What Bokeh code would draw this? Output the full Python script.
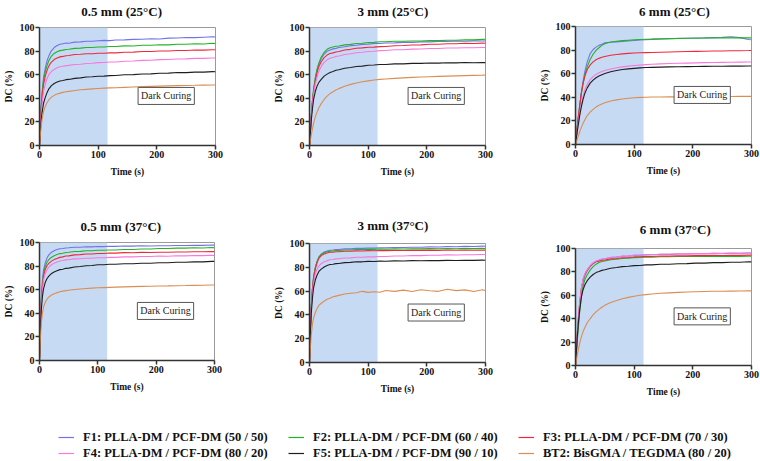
from bokeh.plotting import figure
from bokeh.models import Range1d, FixedTicker, BoxAnnotation, Label, Legend, LegendItem
from bokeh.layouts import column, row
from bokeh.embed import file_html
from bokeh.resources import INLINE

# ---------------- data ----------------
time_s = [0, 1, 2, 3, 5, 7, 10, 13, 16, 20, 25, 30, 35, 40, 45, 50, 60, 70, 80, 90, 100,
          110, 120, 130, 145, 160, 175, 190, 205, 220, 235, 250, 265, 280, 295, 300]

series_labels = ["F1: PLLA-DM / PCF-DM (50 / 50)", "F2: PLLA-DM / PCF-DM (60 / 40)",
                 "F3: PLLA-DM / PCF-DM (70 / 30)", "F4: PLLA-DM / PCF-DM (80 / 20)",
                 "F5: PLLA-DM / PCF-DM (90 / 10)", "BT2: BisGMA / TEGDMA (80 / 20)"]
panel_titles = ["0.5 mm (25°C)", "3 mm (25°C)", "6 mm (25°C)",
                "0.5 mm (37°C)", "3 mm (37°C)", "6 mm (37°C)"]
light_on_s = [0, 116]
x_ticks = [0, 100, 200, 300]
y_ticks = [0, 20, 40, 60, 80, 100]

# 0.5 mm, 25 C
f1_05_25 = [0, 12, 24, 34, 48, 58, 66, 72, 76, 80, 83, 84.8, 85.8, 86.3, 86.8, 86.7, 87.6, 87.8, 88.4, 88.3, 88.8, 89.1, 88.9, 89.4, 89.5, 89.9, 90.0, 90.5, 90.3, 91.0, 91.1, 91.5, 91.4, 91.8, 92.1, 91.9]
f2_05_25 = [0, 12, 24, 34, 47, 56, 63, 68, 72, 75.5, 78, 79.5, 80.4, 80.8, 81.4, 81.6, 82.3, 82.5, 83.1, 83.0, 83.5, 83.5, 83.9, 83.9, 84.4, 84.3, 84.9, 84.9, 85.4, 85.3, 85.8, 85.8, 86.2, 86.0, 86.6, 86.4]
f3_05_25 = [0, 11, 22, 32, 44, 52, 59, 64, 67.5, 70.5, 72.8, 74.2, 75.1, 75.5, 76.1, 76.3, 77.1, 77.3, 77.8, 77.8, 78.2, 78.2, 78.5, 78.5, 79.0, 79.1, 79.6, 79.7, 80.1, 80.1, 80.5, 80.5, 80.9, 80.8, 81.2, 81.1]
f4_05_25 = [0, 10, 20, 28, 38, 46, 52, 57, 60, 62.5, 64.5, 65.8, 66.7, 67.1, 67.7, 67.9, 68.7, 68.9, 69.5, 69.7, 70.2, 70.3, 70.7, 70.8, 71.4, 71.6, 72.1, 72.3, 72.8, 72.9, 73.3, 73.4, 73.8, 73.8, 74.2, 74.1]
f5_05_25 = [0, 8, 16, 22, 30, 36, 41, 45, 48, 50.5, 52.5, 53.8, 54.7, 55.1, 55.8, 56.0, 56.9, 57.3, 58.0, 58.2, 58.7, 58.8, 59.2, 59.3, 59.9, 60.1, 60.6, 60.7, 61.2, 61.3, 61.8, 61.8, 62.2, 62.2, 62.6, 62.5]
bt2_05_25 = [0, 6, 12, 17, 24, 29, 33.5, 36.5, 38.8, 40.8, 42.5, 43.6, 44.4, 45.0, 45.5, 45.9, 46.6, 47.2, 47.6, 48.0, 48.3, 48.6, 48.8, 49.0, 49.3, 49.6, 49.9, 50.1, 50.3, 50.5, 50.7, 50.9, 51.0, 51.2, 51.3, 51.3]

# 3 mm, 25 C
f1_3_25 = [0, 8, 16, 25, 37, 47, 57, 64, 69, 73.5, 77.5, 79.8, 81.0, 81.9, 82.3, 83.0, 83.7, 84.6, 85.0, 85.7, 85.9, 86.4, 86.4, 86.9, 87.0, 87.4, 87.4, 87.8, 87.8, 88.2, 88.1, 88.5, 88.4, 88.7, 88.6, 88.7]
f2_3_25 = [0, 8, 16, 25, 38, 48, 58, 65, 70, 75, 79, 81.5, 82.9, 83.5, 84.1, 84.3, 85.3, 85.7, 86.4, 86.7, 87.3, 87.4, 87.9, 87.9, 88.3, 88.3, 88.6, 88.6, 88.9, 88.9, 89.2, 89.2, 89.5, 89.5, 89.9, 90.0]
f3_3_25 = [0, 8, 16, 25, 37, 46, 55, 62, 67, 71, 74.5, 76.6, 77.9, 78.5, 79.3, 79.7, 80.9, 81.5, 82.4, 82.7, 83.3, 83.4, 83.8, 83.9, 84.5, 84.7, 85.2, 85.3, 85.8, 85.8, 86.2, 86.2, 86.6, 86.5, 86.8, 86.7]
f4_3_25 = [0, 8, 16, 24, 35, 44, 52, 58, 63, 67, 70.5, 72.6, 73.9, 74.6, 75.5, 75.9, 77.1, 77.7, 78.6, 79.0, 79.7, 79.9, 80.4, 80.5, 81.1, 81.2, 81.7, 81.8, 82.2, 82.2, 82.6, 82.6, 82.9, 82.8, 83.1, 83.0]
f5_3_25 = [0, 7, 14, 21, 31, 39, 46, 50.5, 53.5, 56, 58.8, 60.5, 61.9, 62.7, 63.7, 64.2, 65.5, 66.1, 66.9, 67.3, 68.0, 68.2, 68.7, 68.7, 69.2, 69.2, 69.6, 69.6, 69.9, 69.8, 70.1, 70.0, 70.3, 70.1, 70.3, 70.2]
bt2_3_25 = [0, 3, 6, 9, 14, 19, 24.5, 28.5, 32, 35.5, 39, 41.8, 44.0, 45.6, 47.0, 48.2, 50.2, 51.8, 53.0, 54.0, 54.8, 55.5, 56.0, 56.4, 56.9, 57.3, 57.7, 58.0, 58.3, 58.6, 58.8, 59.0, 59.2, 59.4, 59.6, 59.7]

# 6 mm, 25 C
f1_6_25 = [0, 5, 10, 15, 24, 32, 44, 54, 62, 70, 77, 80.5, 82.5, 84, 85, 86.2, 86.6, 87.0, 87.4, 87.8, 88.1, 88.5, 88.9, 89.1, 89.4, 89.6, 89.9, 90.0, 90.3, 90.4, 90.6, 90.8, 91.3, 90.6, 89.0, 88.8]
f2_6_25 = [0, 5, 10, 15, 24, 32, 43, 52, 59, 66, 72, 76.5, 79.8, 82, 84, 85.4, 86.8, 87.5, 88.0, 88.4, 88.7, 89.0, 89.2, 89.3, 89.5, 89.7, 89.8, 90.0, 90.1, 90.2, 90.3, 90.4, 90.4, 90.5, 90.4, 90.4]
f3_6_25 = [0, 5, 10, 15, 24, 32, 44, 52, 58, 63.5, 67.5, 70, 71.8, 73.0, 73.9, 74.6, 75.6, 76.3, 76.8, 77.2, 77.5, 77.7, 77.9, 78.0, 78.2, 78.4, 78.6, 78.8, 78.9, 79.0, 79.2, 79.3, 79.4, 79.5, 79.6, 79.7]
f4_6_25 = [0, 4, 8, 12, 19, 26, 34, 41, 46.5, 51, 55, 57.5, 59.4, 60.8, 61.8, 62.7, 64.0, 65.0, 65.8, 66.4, 66.9, 67.3, 67.7, 68.0, 68.3, 68.6, 68.8, 69.0, 69.2, 69.4, 69.5, 69.6, 69.7, 69.8, 69.9, 69.9]
f5_6_25 = [0, 4, 7.5, 11, 17.5, 24, 32, 38.5, 43.5, 48, 52, 54.6, 56.6, 58, 59.2, 60.2, 61.7, 62.7, 63.5, 64.1, 64.5, 64.9, 65.2, 65.4, 65.6, 65.8, 65.9, 66.0, 66.1, 66.2, 66.3, 66.3, 66.4, 66.4, 66.5, 66.5]
bt2_6_25 = [0, 1.5, 3, 4.5, 7.5, 10.5, 14.5, 18, 21, 24.5, 27.5, 29.8, 31.7, 33.2, 34.4, 35.4, 36.8, 37.8, 38.6, 39.2, 39.6, 39.9, 40.1, 40.2, 40.3, 40.4, 40.4, 40.5, 40.5, 40.6, 40.6, 40.7, 40.7, 40.8, 40.8, 40.8]

# 0.5 mm, 37 C
f1_05_37 = [0, 20, 38, 52, 68, 77, 83, 87, 89.5, 91.5, 93, 94, 94.7, 94.9, 95.4, 95.5, 96.0, 96.0, 96.4, 96.3, 96.6, 96.5, 96.8, 96.7, 97.0, 96.9, 97.2, 97.0, 97.3, 97.2, 97.5, 97.4, 97.7, 97.6, 97.9, 97.8]
f2_05_37 = [0, 20, 37, 50, 65, 74, 80, 83.5, 85.5, 87.3, 88.8, 89.8, 90.6, 90.9, 91.5, 91.7, 92.4, 92.5, 93.0, 93.0, 93.4, 93.4, 93.7, 93.7, 94.1, 94.1, 94.5, 94.5, 94.9, 94.9, 95.2, 95.2, 95.5, 95.4, 95.7, 95.6]
f3_05_37 = [0, 19, 36, 49, 63, 72, 77.5, 80.5, 82.3, 84, 85.5, 86.5, 87.4, 87.8, 88.5, 88.7, 89.5, 89.7, 90.2, 90.3, 90.7, 90.7, 91.1, 91.0, 91.4, 91.3, 91.6, 91.5, 91.8, 91.7, 92.0, 91.9, 92.2, 92.1, 92.4, 92.3]
f4_05_37 = [0, 18, 34, 47, 60, 68.5, 74, 77, 79, 81, 82.5, 83.5, 84.3, 84.7, 85.3, 85.4, 86.1, 86.2, 86.7, 86.7, 87.1, 87.1, 87.4, 87.4, 87.8, 87.8, 88.1, 88.1, 88.5, 88.4, 88.8, 88.7, 89.0, 88.9, 89.2, 89.1]
f5_05_37 = [0, 16, 31, 42, 54, 61, 66.5, 69.5, 71.5, 73.5, 75, 76.1, 77.0, 77.4, 78.1, 78.3, 79.2, 79.6, 80.3, 80.5, 81.1, 81.2, 81.6, 81.6, 82.0, 82.0, 82.4, 82.4, 82.8, 82.8, 83.2, 83.2, 83.6, 83.6, 84.0, 84.0]
bt2_05_37 = [0, 12, 23, 31, 40, 45.5, 49.5, 52, 53.8, 55.3, 56.6, 57.5, 58.2, 58.8, 59.2, 59.6, 60.2, 60.6, 61.0, 61.3, 61.6, 61.8, 62.0, 62.2, 62.4, 62.6, 62.8, 62.9, 63.1, 63.2, 63.4, 63.5, 63.7, 63.8, 64.0, 64.0]

# 3 mm, 37 C
f1_3_37 = [0, 18, 34, 47, 62, 72, 80, 85, 88.5, 91, 92.8, 93.6, 94.3, 94.5, 95.0, 95.0, 95.5, 95.5, 95.9, 95.9, 96.1, 96.1, 96.4, 96.3, 96.6, 96.6, 96.9, 96.8, 97.2, 97.1, 97.4, 97.3, 97.6, 97.5, 97.8, 97.7]
f2_3_37 = [0, 18, 34, 47, 62, 72, 80, 85, 88.5, 90.8, 92.2, 93.0, 93.6, 93.7, 94.1, 94.1, 94.6, 94.6, 95.0, 94.9, 95.2, 95.1, 95.4, 95.2, 95.5, 95.4, 95.6, 95.5, 95.7, 95.6, 95.8, 95.6, 95.9, 95.7, 95.9, 95.8]
f3_3_37 = [0, 18, 34, 46, 61, 71, 79, 84, 87.5, 89.8, 91.2, 92.0, 92.6, 92.7, 93.1, 93.1, 93.5, 93.5, 93.8, 93.7, 94.0, 93.9, 94.1, 94.0, 94.2, 94.1, 94.3, 94.2, 94.4, 94.2, 94.5, 94.3, 94.5, 94.3, 94.5, 94.4]
f4_3_37 = [0, 17, 32, 44, 58, 67, 74.5, 78.5, 81, 83, 84.6, 85.6, 86.3, 86.6, 87.1, 87.2, 87.8, 87.9, 88.4, 88.4, 88.8, 88.8, 89.1, 89.1, 89.5, 89.5, 89.9, 89.8, 90.1, 90.1, 90.4, 90.3, 90.6, 90.5, 90.8, 90.7]
f5_3_37 = [0, 16, 30, 41, 54, 63, 69.5, 73.5, 76.5, 78.5, 80.3, 81.5, 82.3, 82.6, 83.1, 83.2, 83.9, 84.1, 84.6, 84.6, 85.0, 84.9, 85.2, 85.1, 85.4, 85.3, 85.6, 85.5, 85.7, 85.6, 85.8, 85.7, 85.9, 85.8, 86.0, 85.9]
bt2_3_37 = [0, 8, 16, 23, 32, 37.5, 42, 45.5, 48, 49.8, 51.5, 53.2, 54.0, 55.2, 55.8, 56.4, 57.5, 58.2, 58.6, 59.8, 58.9, 59.5, 59.0, 60.5, 59.8, 60.8, 59.6, 61.2, 60.3, 59.8, 61.6, 60.4, 61.0, 59.7, 61.2, 60.3]

# 6 mm, 37 C
f1_6_37 = [0, 8, 16, 24, 38, 50, 64, 72, 77, 81, 84.5, 87, 88.8, 90, 90.8, 91.2, 92.3, 92.7, 93.4, 93.6, 94.1, 94.2, 94.6, 94.6, 95.0, 95.0, 95.3, 95.3, 95.6, 95.5, 95.8, 95.7, 96.0, 95.9, 96.2, 96.1]
f2_6_37 = [0, 7, 14, 21, 33, 45, 59, 68, 73.5, 77.5, 81.5, 84.5, 86.6, 88, 88.9, 89.3, 90.4, 90.8, 91.5, 91.7, 92.2, 92.3, 92.7, 92.6, 93.0, 92.9, 93.2, 93.1, 93.3, 93.2, 93.4, 93.2, 93.5, 93.3, 93.5, 93.4]
f3_6_37 = [0, 9, 18, 27, 41, 53, 66, 73.5, 78, 81.5, 85, 87.3, 88.7, 89.2, 89.9, 90.1, 91.1, 91.5, 92.1, 92.3, 92.8, 92.9, 93.3, 93.2, 93.6, 93.5, 93.8, 93.7, 94.0, 93.9, 94.1, 94.0, 94.2, 94.1, 94.3, 94.3]
f4_6_37 = [0, 9, 18, 27, 41, 53, 66, 74, 78.5, 82, 85.5, 87.8, 89.3, 90.1, 91.0, 91.3, 92.4, 92.8, 93.5, 93.7, 94.2, 94.3, 94.7, 94.7, 95.1, 95.1, 95.5, 95.4, 95.7, 95.6, 95.9, 95.8, 96.1, 95.9, 96.2, 96.1]
f5_6_37 = [0, 8, 16, 24, 37, 47, 58.5, 65, 69, 72.5, 75.5, 77.8, 79.4, 80.3, 81.3, 81.8, 83.1, 83.7, 84.5, 84.8, 85.4, 85.5, 86.0, 86.0, 86.5, 86.6, 87.0, 87.1, 87.5, 87.5, 87.9, 87.9, 88.3, 88.3, 88.7, 88.6]
bt2_6_37 = [0, 3, 6, 9, 14, 18.5, 24.5, 29, 32.5, 36.5, 40, 43.2, 45.8, 48, 49.8, 51.4, 53.8, 55.6, 57, 58.2, 59.2, 60.0, 60.6, 61.1, 61.7, 62.1, 62.5, 62.8, 63.0, 63.2, 63.4, 63.5, 63.6, 63.7, 63.8, 63.8]

panel_data = [
    [f1_05_25, f2_05_25, f3_05_25, f4_05_25, f5_05_25, bt2_05_25],
    [f1_3_25, f2_3_25, f3_3_25, f4_3_25, f5_3_25, bt2_3_25],
    [f1_6_25, f2_6_25, f3_6_25, f4_6_25, f5_6_25, bt2_6_25],
    [f1_05_37, f2_05_37, f3_05_37, f4_05_37, f5_05_37, bt2_05_37],
    [f1_3_37, f2_3_37, f3_3_37, f4_3_37, f5_3_37, bt2_3_37],
    [f1_6_37, f2_6_37, f3_6_37, f4_6_37, f5_6_37, bt2_6_37],
]

# ---------------- styles / layout ----------------
colors = ["#7373e6", "#22b422", "#f0283c", "#f878dc", "#1e1e1e", "#d98e52"]
SERIF = "Liberation Serif"

# panel figure: (width, height, left, right, top, bottom)
geom = [
    (270, 180, 37, 55, 7, 55),
    (266, 180, 37, 51, 7, 55),
    (224, 180, 37, 9, 6, 56),
    (270, 181, 37, 56, 8, 55),
    (266, 181, 37, 51, 9, 53),
    (224, 178, 39, 9, 11, 50),
]
# title strip above each panel: (height, text centre from strip top)
title_geom = [(20, 10.5), (20, 10.5), (20, 10.5), (34, 25.5), (34, 24.5), (37, 29.0)]


def make_title(i):
    w, _, l, r, _, _ = geom[i]
    h, cy = title_geom[i]
    tf = figure(width=w, height=h, output_backend="svg", toolbar_location=None,
                x_range=Range1d(0, w), y_range=Range1d(0, h), x_axis_type=None, y_axis_type=None,
                min_border=0, outline_line_color=None)
    tf.xgrid.visible = False
    tf.ygrid.visible = False
    tf.add_layout(Label(x=l + (w - l - r) / 2, y=h - cy, text=panel_titles[i],
                        text_align="center", text_baseline="middle",
                        text_font=SERIF, text_font_style="bold", text_font_size="13px",
                        text_color="#111111"))
    return tf


def make_panel(i):
    w, h, l, r, t, b = geom[i]
    p = figure(width=w, height=h, output_backend="svg", toolbar_location=None,
               x_range=Range1d(0, 300), y_range=Range1d(0, 100),
               min_border_left=l, min_border_right=r, min_border_top=t, min_border_bottom=b,
               background_fill_color="white", border_fill_color="white")
    p.xgrid.visible = False
    p.ygrid.visible = False
    p.outline_line_color = "#9a9a9a"
    p.outline_line_width = 1

    p.add_layout(BoxAnnotation(left=light_on_s[0], right=light_on_s[1], fill_color="#c6daf3",
                               fill_alpha=1.0, line_color=None, level="underlay"))
    for k in range(6):
        p.line(time_s, panel_data[i][k], line_color=colors[k], line_width=1.1)

    p.add_layout(Label(x=216, y=42, text="Dark Curing", text_align="center", text_baseline="middle",
                       text_font=SERIF, text_font_size="10px", text_color="#222222",
                       border_line_color="#555555", border_line_width=1,
                       background_fill_color="white", padding=3))

    for ax in (p.xaxis[0], p.yaxis[0]):
        ax.axis_line_color = "#333333"
        ax.axis_line_width = 1.5
        ax.major_tick_line_color = "#333333"
        ax.major_tick_line_width = 1.5
        ax.major_tick_out = 4
        ax.major_tick_in = 0
        ax.minor_tick_out = 0
        ax.minor_tick_in = 0
        ax.major_label_text_font = SERIF
        ax.major_label_text_font_style = "bold"
        ax.major_label_text_font_size = "10px"
        ax.major_label_text_color = "#111111"
        ax.major_label_standoff = 1
        ax.axis_label_text_font = SERIF
        ax.axis_label_text_font_style = "bold"
        ax.axis_label_text_font_size = "9.5px"
        ax.axis_label_text_color = "#111111"
    p.xaxis[0].ticker = FixedTicker(ticks=x_ticks, minor_ticks=[])
    p.yaxis[0].ticker = FixedTicker(ticks=y_ticks, minor_ticks=[])
    p.xaxis[0].axis_label = "Time (s)"
    p.yaxis[0].axis_label = "DC (%)"
    p.xaxis[0].axis_label_standoff = 6
    p.yaxis[0].axis_label_standoff = 3
    return p


cells = [column(make_title(i), make_panel(i)) for i in range(6)]

# ---------------- legend figure ----------------
leg = figure(width=760, height=46, output_backend="svg", toolbar_location=None,
             x_range=Range1d(0, 1), y_range=Range1d(0, 1), x_axis_type=None, y_axis_type=None,
             min_border=0, outline_line_color=None)
leg.xgrid.visible = False
leg.ygrid.visible = False
items = []
for k in range(6):
    # proxy renderer placed outside the visible range, only used for the legend swatch
    rr = leg.line([-5, -4], [-5, -4], line_color=colors[k], line_width=1.2)
    items.append(LegendItem(label=series_labels[k], renderers=[rr]))
lg = Legend(items=items, location=(58, 0), orientation="horizontal", ncols=3,
            margin=0, padding=0, spacing=0, border_line_color=None,
            background_fill_alpha=0, glyph_width=16, glyph_height=16, label_height=16,
            label_width=205, label_standoff=9, label_text_font=SERIF, label_text_font_style="bold",
            label_text_font_size="12.5px", label_text_color="#111111")
leg.add_layout(lg)

layout = column(row(cells[0], cells[1], cells[2]),
                row(cells[3], cells[4], cells[5]),
                leg)

open("out.html", "w").write(file_html(layout, INLINE))
